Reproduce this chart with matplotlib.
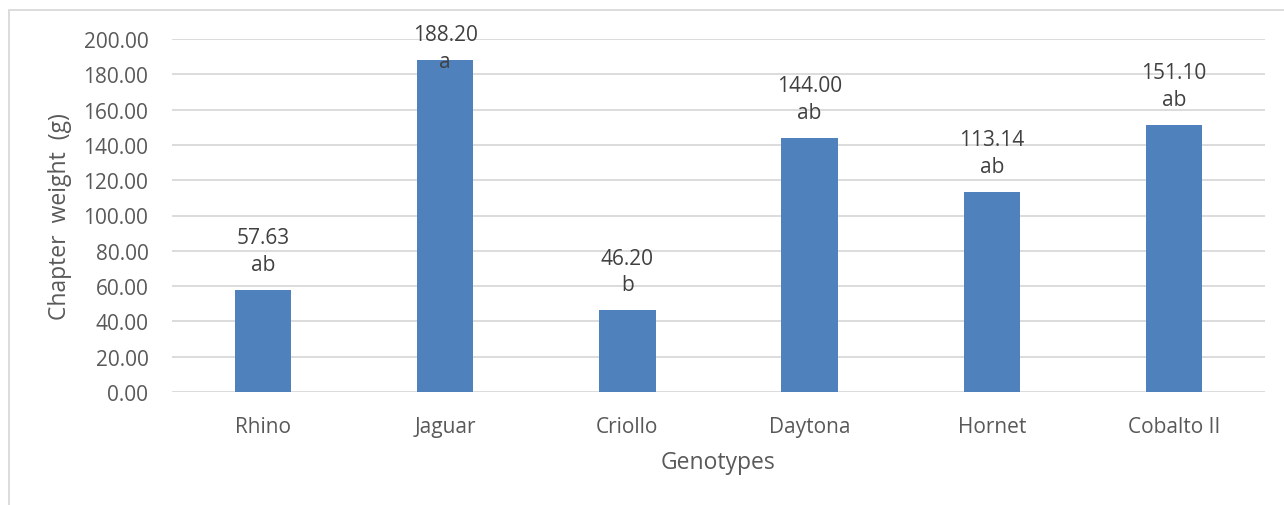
import matplotlib
matplotlib.use("Agg")
import matplotlib.pyplot as plt
from matplotlib.patches import Rectangle

categories = ["Rhino", "Jaguar", "Criollo", "Daytona", "Hornet", "Cobalto II"]
values = [57.63, 188.20, 46.20, 144.00, 113.14, 151.10]
letters = ["ab", "a", "b", "ab", "ab", "ab"]
yticks = [0, 20, 40, 60, 80, 100, 120, 140, 160, 180, 200]

plt.rcParams['font.family'] = ['Open Sans', 'DejaVu Sans']

W, H = 1284, 506
fig = plt.figure(figsize=(W / 100, H / 100), dpi=100)
ax = fig.add_axes([172 / W, 1 - 393 / H, (1265 - 172) / W, (393 - 40) / H])

x = list(range(len(categories)))
ax.bar(x, values, width=0.31, color="#4F81BD", zorder=3)
ax.set_xlim(-0.5, len(categories) - 0.5)
ax.set_ylim(0, 200)
ax.set_yticks(yticks)
ax.set_yticklabels([f"{t:.2f}" for t in yticks])
ax.set_xticks(x)
ax.set_xticklabels(categories)
ax.tick_params(axis='both', length=0, labelsize=15, labelcolor="#595959")
ax.tick_params(axis='y', pad=17)
ax.tick_params(axis='x', pad=17)
ax.grid(axis='y', color="#D9D9D9", linewidth=1.3, zorder=0)
for s in ax.spines.values():
    s.set_visible(False)

ax.set_ylabel("Chapter  weight  (g)", fontsize=16.5, color="#595959")
ax.yaxis.set_label_coords(-0.0915, 0.5)
ax.set_xlabel("Genotypes", fontsize=16.5, color="#595959")
ax.xaxis.set_label_coords(0.5, -0.164)

anns = []
for xi, v, l in zip(x, values, letters):
    a = ax.annotate(f"{v:.2f}\n{l}", xy=(xi, v), xytext=(0, 11), textcoords='offset points',
                    ha='center', va='bottom', fontsize=15, color="#404040",
                    linespacing=1.35, zorder=5, annotation_clip=False)
    anns.append(a)

# chart border
fig.patches.append(Rectangle((9 / W, -0.1), 1.5, 1 - 11 / H + 0.1, transform=fig.transFigure,
                             fill=False, edgecolor="#D9D9D9", linewidth=1.3))

# keep labels inside chart area (like Excel)
fig.canvas.draw()
r = fig.canvas.get_renderer()
limit = H - 25
for a in anns:
    bb = a.get_window_extent(r)
    if bb.y1 > limit:
        dy = (bb.y1 - limit) * 72 / fig.dpi
        a.set_position((0, 11 - dy))

fig.savefig("out.png", dpi=100)
